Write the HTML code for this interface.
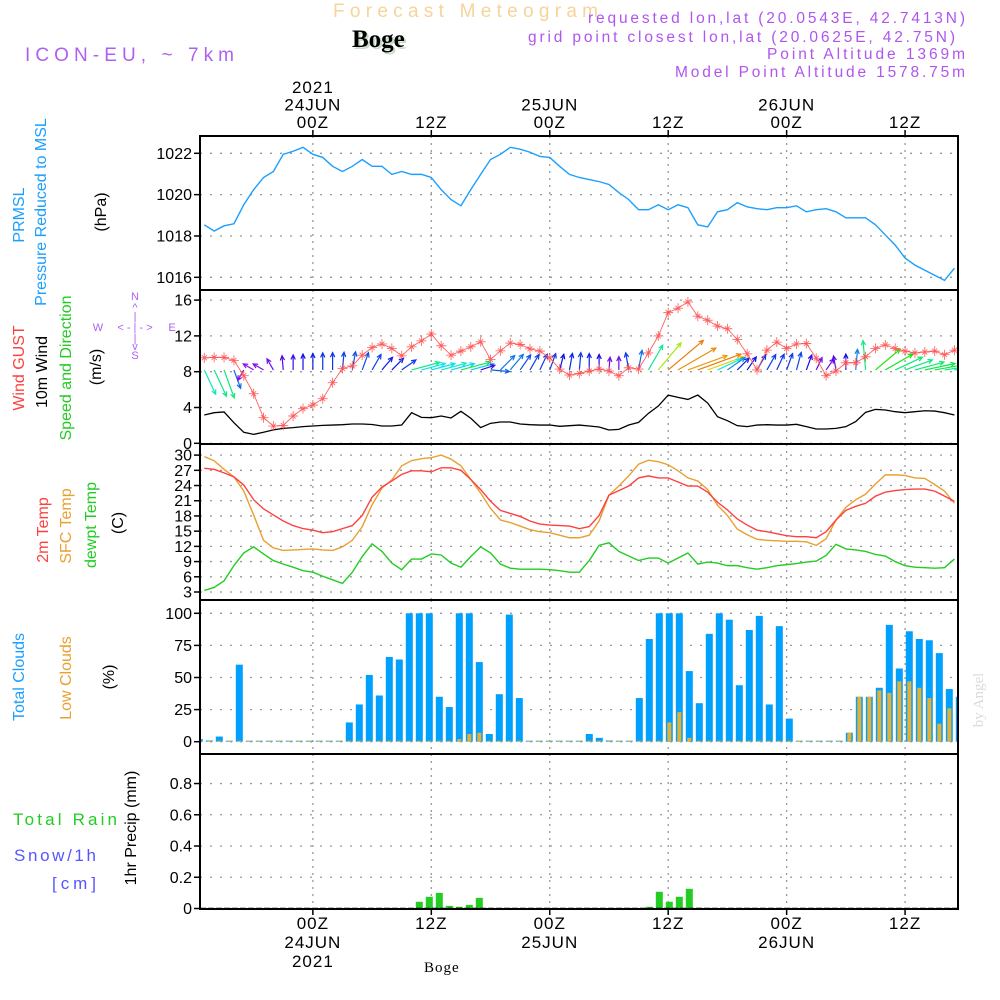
<!DOCTYPE html>
<html><head><meta charset="utf-8"><style>
body{margin:0;background:#fff}
svg{display:block;font-family:"Liberation Sans",sans-serif}
</style></head><body>
<svg id="chart" width="1000" height="1000" viewBox="0 0 1000 1000" xmlns="http://www.w3.org/2000/svg">
<rect width="1000" height="1000" fill="#fff"/>
<text x="333" y="17" font-size="19" fill="#f6d49a" textLength="265" lengthAdjust="spacing">Forecast Meteogram</text>
<text x="354" y="49" font-size="25" font-weight="bold" font-family="Liberation Serif,serif" fill="#c8dcc8">Boge</text>
<text x="352" y="47" font-size="25" font-weight="bold" font-family="Liberation Serif,serif" fill="#000">Boge</text>
<text x="25" y="61" font-size="19" fill="#b060f0" textLength="209" lengthAdjust="spacing">ICON-EU, ~ 7km</text>
<g font-size="15.5" fill="#b055ee" text-anchor="end">
<text x="965" y="23" textLength="377" lengthAdjust="spacing">requested lon,lat (20.0543E, 42.7413N)</text>
<text x="955" y="42" textLength="427" lengthAdjust="spacing">grid point closest lon,lat (20.0625E, 42.75N)</text>
<text x="965" y="59" textLength="198" lengthAdjust="spacing">Point Altitude 1369m</text>
<text x="965" y="77" textLength="290" lengthAdjust="spacing">Model Point Altitude 1578.75m</text>
</g>
<g id="plots"></g>
<g id="labels" font-size="15">
<text transform="translate(24,215) rotate(-90)" text-anchor="middle" fill="#1a9fff" font-size="16">PRMSL</text>
<text transform="translate(46,212) rotate(-90)" text-anchor="middle" fill="#1a9fff" font-size="16">Pressure Reduced to MSL</text>
<text transform="translate(106,212) rotate(-90)" text-anchor="middle" fill="#000" font-size="16">(hPa)</text>
<text transform="translate(24,368) rotate(-90)" text-anchor="middle" fill="#ff4040" font-size="16">Wind GUST</text>
<text transform="translate(47,372) rotate(-90)" text-anchor="middle" fill="#000" font-size="16">10m Wind</text>
<text transform="translate(71,368) rotate(-90)" text-anchor="middle" fill="#22cc22" font-size="16">Speed and Direction</text>
<text transform="translate(101,367) rotate(-90)" text-anchor="middle" fill="#000" font-size="16">(m/s)</text>
<g fill="#b060f0" font-size="11" text-anchor="middle">
<text x="135" y="300">N</text><text x="135" y="311">^</text><text x="135" y="320">|</text>
<text x="98" y="331">W</text><text x="135" y="331">&lt; - | - &gt;</text><text x="172" y="331">E</text>
<text x="135" y="342">|</text><text x="135" y="350">v</text><text x="135" y="359">S</text>
</g>
<text transform="translate(48,530) rotate(-90)" text-anchor="middle" fill="#ff4040" font-size="16">2m Temp</text>
<text transform="translate(71,526) rotate(-90)" text-anchor="middle" fill="#e8a030" font-size="16">SFC Temp</text>
<text transform="translate(96,525) rotate(-90)" text-anchor="middle" fill="#22cc22" font-size="16">dewpt Temp</text>
<text transform="translate(123,523) rotate(-90)" text-anchor="middle" fill="#000" font-size="16">(C)</text>
<text transform="translate(24,677) rotate(-90)" text-anchor="middle" fill="#1a9fff" font-size="16">Total Clouds</text>
<text transform="translate(71,678) rotate(-90)" text-anchor="middle" fill="#e8a030" font-size="16">Low Clouds</text>
<text transform="translate(114,677) rotate(-90)" text-anchor="middle" fill="#000" font-size="16">(%)</text>
<text transform="translate(136,828) rotate(-90)" text-anchor="middle" fill="#000" font-size="16">1hr Precip (mm)</text>
<text x="13" y="825" fill="#22cc22" font-size="17" textLength="104" lengthAdjust="spacing">Total  Rain</text>
<text x="14" y="861" fill="#5555ff" font-size="17" textLength="82" lengthAdjust="spacing">Snow/1h</text>
<text x="52" y="889" fill="#5555ff" font-size="17" textLength="44" lengthAdjust="spacing">[cm]</text>
<text x="424" y="972" font-size="15" font-family="Liberation Serif,serif" fill="#000" letter-spacing="1">Boge</text>
<text transform="translate(983,700) rotate(-90)" text-anchor="middle" fill="#d8dcd8" font-size="15" font-family="Liberation Serif,serif">by Angel</text>
</g>
</svg>
<script>
// ---- data (index k = hourly steps starting 23JUN 13Z) ----
const pressure = [1018.54,1018.24,1018.49,1018.59,1019.51,1020.24,1020.83,1021.12,1021.95,1022.1,1022.29,1021.95,1021.8,1021.37,1021.12,1021.37,1021.7,1021.37,1021.37,1020.98,1021.12,1020.98,1020.98,1020.83,1020.24,1019.76,1019.46,1020.24,1020.98,1021.7,1021.95,1022.29,1022.2,1022.05,1021.85,1021.8,1021.37,1020.98,1020.83,1020.73,1020.63,1020.49,1020.1,1019.76,1019.27,1019.27,1019.51,1019.27,1019.51,1019.37,1018.54,1018.44,1019.17,1019.27,1019.61,1019.41,1019.32,1019.27,1019.37,1019.37,1019.46,1019.17,1019.27,1019.32,1019.17,1018.88,1018.88,1018.88,1018.54,1018.05,1017.56,1016.93,1016.59,1016.34,1016.1,1015.85,1016.44];
const windGust = [9.55,9.6,9.6,9.26,7.55,5.54,2.86,1.93,2.0,3.05,3.87,4.28,4.98,6.77,8.36,8.66,9.85,10.7,11.1,10.6,9.78,10.78,11.45,12.2,10.9,9.85,10.3,10.78,11.34,9.37,10.33,11.2,11.04,10.56,10.3,9.55,8.29,7.62,7.8,8.07,8.29,8.07,7.55,8.44,8.29,10.1,12.0,14.6,15.1,15.8,14.2,13.75,13.1,12.8,11.6,10.0,8.2,10.4,11.3,10.6,11.1,11.15,9.5,7.55,8.07,9.0,9.0,9.67,10.6,11.0,10.6,10.3,10.1,10.2,10.3,9.9,10.4];
const windSpeed = [3.16,3.42,3.5,2.3,1.23,1.0,1.23,1.5,1.67,1.75,1.86,1.93,2.0,2.04,2.08,2.16,2.16,2.1,1.93,1.93,2.04,3.42,2.9,2.86,3.05,2.83,3.57,2.8,1.75,2.23,2.38,2.38,2.16,2.08,2.04,2.04,1.9,1.97,2.04,1.93,1.82,1.49,1.56,2.04,2.34,3.35,4.16,5.39,5.13,4.9,5.39,4.5,2.97,2.53,1.97,1.86,2.04,2.08,2.04,2.04,2.12,1.86,1.6,1.6,1.67,1.86,2.42,3.46,3.79,3.72,3.53,3.42,3.53,3.64,3.6,3.42,3.16];
const windDir = [155,155,160,160,210,300,300,330,355,0,0,0,0,0,5,10,20,30,40,45,55,75,75,75,75,75,75,75,72,95,45,40,35,30,25,20,15,10,5,0,0,5,0,350,10,30,40,50,60,70,70,70,65,55,45,35,30,30,25,20,15,20,25,35,350,0,5,355,50,60,65,70,75,78,80,82,85];
const temp2m = [27.4,27.2,26.5,25.7,24.1,21.2,19.4,18.2,17.0,16.1,15.5,15.2,14.7,14.9,15.5,16.1,18.1,21.7,23.7,24.9,26.2,26.9,26.9,26.7,27.5,27.5,27.0,25.2,23.2,20.9,19.1,18.5,17.9,17.0,16.4,16.2,16.1,16.0,15.5,15.9,18.1,22.1,23.0,23.9,25.5,25.9,25.5,25.5,24.7,23.9,23.9,22.7,20.7,19.2,17.4,16.2,15.2,14.9,14.5,14.1,13.9,13.9,13.7,14.9,17.2,19.1,19.9,20.5,21.9,22.7,23.0,23.2,23.3,23.3,22.9,21.9,20.9];
const tempSfc = [29.7,28.9,27.2,25.7,22.9,18.2,13.2,11.7,11.2,11.3,11.4,11.5,11.3,11.2,11.9,13.2,15.9,20.2,23.5,25.1,27.9,28.9,29.3,29.5,30.0,29.2,27.9,25.2,22.5,19.5,17.2,16.7,16.0,15.3,14.9,14.7,14.2,13.7,13.7,14.2,17.0,22.1,23.9,25.9,28.2,29.0,28.7,28.1,26.9,25.5,24.9,23.2,20.1,18.1,15.4,14.3,13.4,13.2,13.1,13.0,13.0,12.9,12.2,13.5,17.2,19.7,21.2,22.3,24.3,26.1,26.1,26.0,25.5,25.4,24.2,22.9,20.5];
const dewpt = [3.3,3.9,5.2,8.2,10.7,11.9,10.5,9.2,8.5,7.9,7.2,6.9,6.1,5.4,4.7,6.9,10.0,12.5,11.0,8.7,7.4,9.5,9.5,10.5,10.3,8.7,7.9,10.0,11.9,10.7,8.5,7.7,7.5,7.5,7.5,7.4,7.2,6.9,6.9,9.2,12.2,12.7,11.0,10.1,9.2,9.7,9.7,8.7,9.7,10.7,8.5,8.9,8.7,8.2,8.2,7.8,7.5,7.8,8.2,8.4,8.6,8.9,9.1,10.2,12.4,11.5,11.3,11.0,10.4,10.1,9.0,8.2,7.9,7.8,7.7,7.8,9.5];
const totalClouds = [2,1,4,0,60,0,0,0,0,0,0,0,0,0,0,15,29,52,36,66,64,100,100,100,35,27,100,100,62,6,37,99,34,0,0,0,0,0,0,6,3,1,0,0,34,80,100,100,100,55,30,84,100,95,44,87,98,29,90,18,0,0,0,0,0,7,35,35,42,91,57,86,80,79,69,41,35];
const lowClouds = [0,0,0,0,0,0,0,0,0,0,0,0,0,0,0,0,0,0,0,0,0,0,0,0,0,0,2,6,7,0,0,0,0,0,0,0,0,0,0,0,0,0,0,0,0,0,0,15,23,3,0,0,0,0,0,0,0,0,0,0,0,0,0,0,0,7,35,35,40,38,47,47,42,34,14,26,25];
const precipHours = [22,23,24,25,26,27,28,45,46,47,48,49,50];
const precipValues = [0.043,0.075,0.1,0.017,0.011,0.023,0.068,0.011,0.107,0.043,0.075,0.126,0.004];
const pTicks = [1016,1018,1020,1022];
const wTicks = [0,4,8,12,16];
const tTicks = [3,6,9,12,15,18,21,24,27,30];
const cTicks = [0,25,50,75,100];
const rTicks = [0,0.2,0.4,0.6,0.8];
const timeTickHours = [11,23,35,47,59,71];
const timeTickLabels = ["00Z","12Z","00Z","12Z","00Z","12Z"];
const dateLabels = {11:["24JUN","2021"],35:["25JUN"],59:["26JUN"]};

// ---- scales ----
const L=200,R=958;
const xl = k => 204.3 + k*9.87;
const xb = k => 199.3 + k*10;
const yP = v => 153.3 + (1022-v)*20.67;
const yW = v => 443.3 - v*8.95;
const yT = v => 592 - (v-3)*5.07;
const yC = v => 741.7 - v*1.284;
const yR = v => 908.5 - v*156.2;
const panels = [
  {name:'pressure',top:136,bot:290,ticks:pTicks,y:yP,fmt:v=>v},
  {name:'wind',top:290,bot:444,ticks:wTicks,y:yW,fmt:v=>v},
  {name:'temperature',top:444,bot:600,ticks:tTicks,y:yT,fmt:v=>v},
  {name:'clouds',top:600,bot:754,ticks:cTicks,y:yC,fmt:v=>v},
  {name:'precip',top:754,bot:909,ticks:rTicks,y:yR,fmt:v=>v===0?'0':v.toFixed(1)}
];
const NS='http://www.w3.org/2000/svg';
const root=document.getElementById('plots');
function mk(tag,attrs,parent){const e=document.createElementNS(NS,tag);for(const a in attrs)e.setAttribute(a,attrs[a]);(parent||root).appendChild(e);return e;}

const defs=mk('defs',{});
panels.forEach(p=>{const c=mk('clipPath',{id:'clip-'+p.name},defs);mk('rect',{x:L,y:p.top,width:R-L,height:p.bot-p.top},c);});

panels.forEach(p=>{
  const g=mk('g',{});
  
  
  timeTickHours.forEach(h=>{
    const ln=mk('line',{x1:xl(h),x2:xl(h),y1:p.top,y2:p.bot,stroke:'#999','stroke-width':1.3,'stroke-dasharray':'2,5'},g);
    
    
  });
  p.ticks.forEach(v=>{
    const y=p.y(v);
    const ln=mk('line',{x1:L,x2:R,y1:y,y2:y,stroke:'#999','stroke-width':1.3,'stroke-dasharray':'2,8'},g);
    
    
    mk('line',{x1:L-6,x2:L,y1:y,y2:y,stroke:'#000','stroke-width':1.5},g);
    const t=mk('text',{x:L-8,y:y+5.5,'text-anchor':'end','font-size':16,fill:'#000'},g);
    
    
    t.textContent=p.fmt(v);
  });
});

const pl=mk('polyline',{points:pressure.map((v,k)=>xl(k)+','+yP(v)).join(' '),fill:'none',stroke:'#1a9fff','stroke-width':1.4,'clip-path':'url(#clip-pressure)'});



const ws=mk('polyline',{points:windSpeed.map((v,k)=>xl(k)+','+yW(v)).join(' '),fill:'none',stroke:'#000','stroke-width':1.3});



function hue(s){const pts=[[1,275],[1.6,265],[2,230],[2.5,205],[3,175],[3.5,150],[4,90],[4.6,45],[5.4,30]];
  if(s<=pts[0][0])return pts[0][1];for(let i=1;i<pts.length;i++){if(s<=pts[i][0]){const a=pts[i-1],b=pts[i];return a[1]+(b[1]-a[1])*(s-a[0])/(b[0]-a[0]);}}return 30;}
const arrows=mk('g',{'clip-path':'url(#clip-wind)'});


windDir.forEach((d,k)=>{
  const s=windSpeed[k],len=Math.max(12,s*8.5),r=d*Math.PI/180;
  const x0=xl(k),y0=yW(8.2),x1=x0+len*Math.sin(r),y1=y0-len*Math.cos(r);
  const col='hsl('+hue(s)+',90%,48%)';
  const g=mk('g',{stroke:col,'stroke-width':1.2,fill:'none'},arrows);
  
  
  mk('line',{x1:x0,y1:y0,x2:x1,y2:y1},g);
  const hl=5,a1=r+Math.PI-0.45,a2=r+Math.PI+0.45;
  mk('polyline',{points:(x1+hl*Math.sin(a1))+','+(y1-hl*Math.cos(a1))+' '+x1+','+y1+' '+(x1+hl*Math.sin(a2))+','+(y1-hl*Math.cos(a2))},g);
});

const gl=mk('polyline',{points:windGust.map((v,k)=>xl(k)+','+yW(v)).join(' '),fill:'none',stroke:'#ff6060','stroke-width':0.9});


windGust.forEach((v,k)=>{
  const x=xl(k),y=yW(v);
  const m=mk('path',{d:`M${x-5},${y}H${x+5}M${x},${y-5}V${y+5}M${x-2.5},${y-2.5}L${x+2.5},${y+2.5}M${x-2.5},${y+2.5}L${x+2.5},${y-2.5}`,stroke:'#ff5050','stroke-width':0.9,fill:'none','stroke-opacity':0.85});
  
  
});

[[tempSfc,'#e8a030','sfc-temp-line'],[temp2m,'#ff4040','temp-2m-line'],[dewpt,'#22cc22','dewpoint-line']].forEach(([arr,col,nm])=>{
  const l=mk('polyline',{points:arr.map((v,k)=>xl(k)+','+yT(v)).join(' '),fill:'none',stroke:col,'stroke-width':1.4,'clip-path':'url(#clip-temperature)'});
  
  
});

const cg=mk('g',{'clip-path':'url(#clip-clouds)'});
totalClouds.forEach((v,k)=>{
  const y=yC(v),h=Math.max(1,yC(0)-y);
  const b=mk('rect',{x:xb(k)-3.5,y:yC(0)-h,width:7,height:h,fill:'#00a0ff'},cg);
  
  
});
lowClouds.forEach((v,k)=>{
  const y=yC(v),h=Math.max(1,yC(0)-y);
  const b=mk('rect',{x:xb(k)-2,y:yC(0)-h,width:4,height:h,fill:'#e8b030'},cg);
  
  
});

precipHours.forEach((k,i)=>{
  const y=yR(precipValues[i]);
  const b=mk('rect',{x:xb(k)-3.5,y:y,width:7,height:yR(0)-y,fill:'#22cc22'});
  
  
});
mk('line',{x1:L,x2:R,y1:yR(0),y2:yR(0),stroke:'#000','stroke-width':1.5,'stroke-dasharray':'6,2'});

panels.forEach(p=>{
  const f=mk('rect',{x:L,y:p.top,width:R-L,height:p.bot-p.top,fill:'none',stroke:'#000','stroke-width':2});
  
  
});

timeTickHours.forEach((h,i)=>{
  const x=xl(h);
  mk('line',{x1:x,x2:x,y1:136,y2:130,stroke:'#000','stroke-width':1.5});
  mk('line',{x1:x,x2:x,y1:909,y2:915,stroke:'#000','stroke-width':1.5});
  const lines=[timeTickLabels[i]].concat(dateLabels[h]||[]);
  lines.forEach((s,j)=>{
    const t=mk('text',{x:x,y:128-17.5*j,'text-anchor':'middle','font-size':17,fill:'#000','letter-spacing':1});
    
    
    t.textContent=s;
    const b=mk('text',{x:x,y:929+19*j,'text-anchor':'middle','font-size':17,fill:'#000','letter-spacing':1});
    
    
    b.textContent=s;
  });
});
</script>
</body></html>
